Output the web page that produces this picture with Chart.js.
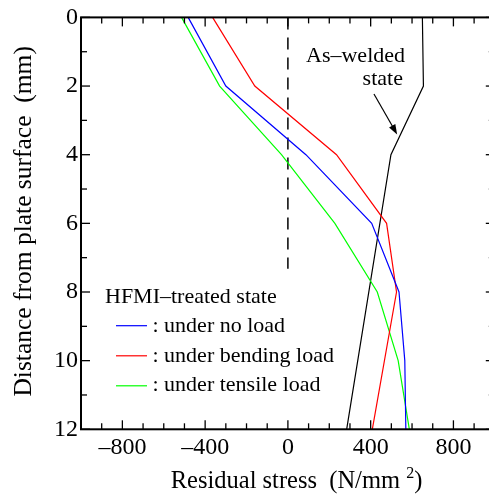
<!DOCTYPE html>
<html><head><meta charset="utf-8">
<script src="https://cdn.jsdelivr.net/npm/chart.js@4.4.0/dist/chart.umd.min.js"></script>
<style>
html,body{margin:0;padding:0;background:#fff;overflow:hidden;width:489px;height:495px}
#wrap{position:absolute;left:0;top:0;width:500px;height:495px}
</style>
</head><body><div id="wrap"><canvas id="c" width="500" height="495"></canvas></div>
<script>
// ---- data (depth in mm, residual stress in N/mm2) ----
const depthNoLoad   = [0, 2, 4, 6, 8, 10, 12];
const stressNoLoad  = [-482, -300, 87, 405, 537, 565, 570];
const depthBending  = [0, 2, 4, 6, 8, 12];
const stressBending = [-364, -160, 235, 477, 525, 408];
const depthTensile  = [0, 2, 4, 6, 8, 10, 12];
const stressTensile = [-514, -330, -31, 227, 432, 533, 587];
const depthWelded   = [0, 2, 4, 12];
const stressWelded  = [650, 655, 498, 284];
const zeroLineDepth = [0, 7.32];
const zeroLineStress = [0, 0];

const xTickValues = [-800, -400, 0, 400, 800];
const xTickLabels = ['\u2013800', '\u2013400', '0', '400', '800'];
const yTickValues = [0, 2, 4, 6, 8, 10, 12];
const yTickLabels = ['0', '2', '4', '6', '8', '10', '12'];

const seriesNames = [': under no load', ': under bending load', ': under tensile load'];
const legendTitle = 'HFMI\u2013treated state';
const annotLine1 = 'As\u2013welded';
const annotLine2 = 'state';
const xTitleMain = 'Residual stress  (N/mm ';
const xTitleSup = '2';
const yTitle = 'Distance from plate surface  (mm)';

const FONT = '"Liberation Serif", "Times New Roman", serif';
const pts = (xs, ys) => xs.map((v, i) => ({x: ys[i], y: v}));

const decor = {
  id: 'decor',
  afterDraw(chart) {
    const {ctx, chartArea: a, scales: {x, y}} = chart;
    ctx.save();
    ctx.strokeStyle = '#000';
    ctx.fillStyle = '#000';
    const line = (x1, y1, x2, y2) => { ctx.beginPath(); ctx.moveTo(x1, y1); ctx.lineTo(x2, y2); ctx.stroke(); };
    // inward tick marks
    ctx.lineWidth = 1.3;
    for (let v = -1000; v <= 1000; v += 100) {
      const px = x.getPixelForValue(v);
      const L = (v % 400 === 0) ? 9 : 6;
      line(px, a.bottom, px, a.bottom - L);
      line(px, a.top, px, a.top + L);
    }
    for (let v = 0; v <= 12; v += 1) {
      const py = y.getPixelForValue(v);
      const L = (v % 2 === 0) ? 9 : 6;
      line(a.left, py, a.left + L, py);
      line(a.right, py, a.right - L, py);
    }
    // frame
    ctx.lineWidth = 2;
    ctx.strokeRect(a.left, a.top, a.right - a.left, a.bottom - a.top);

    // annotation text
    ctx.font = '22px ' + FONT;
    ctx.textAlign = 'right';
    ctx.textBaseline = 'alphabetic';
    ctx.fillText(annotLine1, x.getPixelForValue(566), y.getPixelForValue(1.285));
    ctx.fillText(annotLine2, x.getPixelForValue(556), y.getPixelForValue(1.98));
    // arrow
    const sx = x.getPixelForValue(416), sy = y.getPixelForValue(2.23);
    const ex = x.getPixelForValue(528), ey = y.getPixelForValue(3.41);
    const ang = Math.atan2(ey - sy, ex - sx);
    const hl = 10, hw = 3.6;
    ctx.lineWidth = 1.2;
    line(sx, sy, ex - Math.cos(ang) * hl * 0.8, ey - Math.sin(ang) * hl * 0.8);
    ctx.beginPath();
    ctx.moveTo(ex, ey);
    ctx.lineTo(ex - Math.cos(ang) * hl - Math.sin(ang) * hw, ey - Math.sin(ang) * hl + Math.cos(ang) * hw);
    ctx.lineTo(ex - Math.cos(ang) * hl + Math.sin(ang) * hw, ey - Math.sin(ang) * hl - Math.cos(ang) * hw);
    ctx.closePath();
    ctx.fill();

    // legend
    ctx.textAlign = 'left';
    ctx.font = '22px ' + FONT;
    ctx.fillText(legendTitle, a.left + 24, a.bottom - 126);
    const lineY = [-103.6, -73.5, -43.5];
    const textY = [-97, -67.6, -38.2];
    chart.data.datasets.slice(0, 3).forEach((ds, i) => {
      ctx.strokeStyle = ds.borderColor;
      ctx.lineWidth = 1.2;
      line(a.left + 35, a.bottom + lineY[i], a.left + 66, a.bottom + lineY[i]);
      ctx.fillStyle = '#000';
      ctx.fillText(seriesNames[i], a.left + 71.5, a.bottom + textY[i]);
    });

    // x axis title with superscript
    ctx.fillStyle = '#000';
    ctx.font = '24.5px ' + FONT;
    const w1 = ctx.measureText(xTitleMain).width;
    ctx.font = '16px ' + FONT;
    const w2 = ctx.measureText(xTitleSup).width;
    let tx = a.left + 89.7;
    const base = 487.5;
    ctx.font = '24.5px ' + FONT;
    ctx.fillText(xTitleMain, tx, base);
    ctx.font = '16px ' + FONT;
    ctx.fillText(xTitleSup, tx + w1, base - 10);
    ctx.font = '24.5px ' + FONT;
    ctx.fillText(')', tx + w1 + w2, base);

    // y axis title
    ctx.save();
    ctx.translate(24, (a.top + a.bottom) / 2 - 2);
    ctx.rotate(-Math.PI / 2);
    ctx.textAlign = 'center';
    ctx.textBaseline = 'middle';
    ctx.font = '25.5px ' + FONT;
    ctx.fillText(yTitle, 0, 0);
    ctx.restore();

    ctx.restore();
  }
};

const lineDs = (label, data, color, extra) => Object.assign({
  label, data, borderColor: color, backgroundColor: color, borderWidth: 1.2,
  showLine: true, pointRadius: 0, tension: 0, fill: false
}, extra || {});

new Chart(document.getElementById('c'), {
  type: 'scatter',
  data: {
    datasets: [
      lineDs('under no load', pts(depthNoLoad, stressNoLoad), '#0000ff'),
      lineDs('under bending load', pts(depthBending, stressBending), '#ff0000'),
      lineDs('under tensile load', pts(depthTensile, stressTensile), '#00ff00'),
      lineDs('As-welded state', pts(depthWelded, stressWelded), '#000000'),
      lineDs('zero', pts(zeroLineDepth, zeroLineStress), '#000000', {borderDash: [12, 8], borderWidth: 1.5})
    ]
  },
  options: {
    responsive: false,
    animation: false,
    devicePixelRatio: 1,
    layout: {padding: {top: 15.7, right: 5.2, left: 0, bottom: 0}},
    plugins: {legend: {display: false}, tooltip: {enabled: false}},
    scales: {
      x: {
        type: 'linear', position: 'bottom', min: -1000, max: 1000,
        grid: {display: false, drawTicks: false},
        border: {display: false},
        afterBuildTicks: s => { s.ticks = xTickValues.map(v => ({value: v})); },
        afterFit: s => { s.height = 65.7; },
        ticks: {
          autoSkip: false, maxRotation: 0, padding: 4, color: '#000',
          font: {family: FONT, size: 24},
          callback: v => xTickLabels[xTickValues.indexOf(v)]
        }
      },
      y: {
        type: 'linear', position: 'left', min: 0, max: 12, reverse: true,
        grid: {display: false, drawTicks: false},
        border: {display: false},
        afterBuildTicks: s => { s.ticks = yTickValues.map(v => ({value: v})); },
        afterFit: s => { s.width = 81; },
        ticks: {
          autoSkip: false, padding: 3, color: '#000',
          font: {family: FONT, size: 24},
          callback: v => yTickLabels[yTickValues.indexOf(v)]
        }
      }
    }
  },
  plugins: [decor]
});
</script>
</body></html>
